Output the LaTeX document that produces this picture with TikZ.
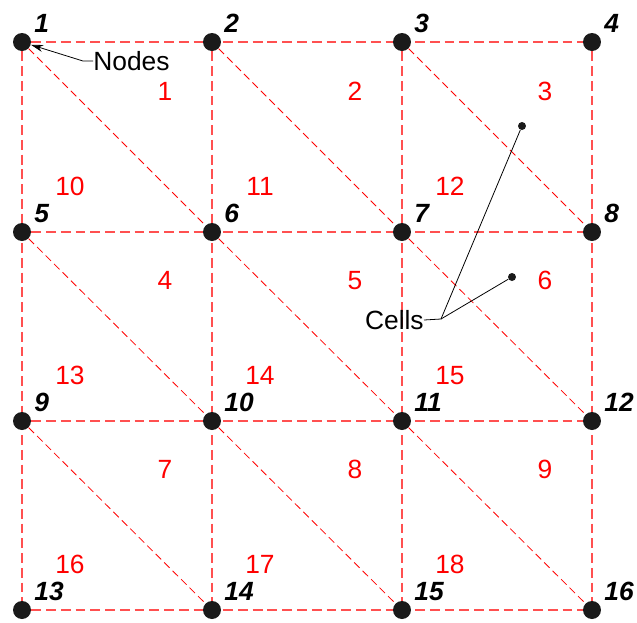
\documentclass[tikz,border=0pt]{standalone}
\usepackage{fontspec}
\setmainfont{Liberation Sans}
\usetikzlibrary{positioning,arrows.meta,backgrounds}
\definecolor{MeshRed}{HTML}{FF0000}
\definecolor{GridRed}{HTML}{FF5050}
\definecolor{DotBlack}{HTML}{1A1A1A}

\begin{document}
\begin{tikzpicture}[
    x=0.02cm, y=-0.02cm,
    font=\fontsize{15}{17}\selectfont,
    meshnode/.style={circle, fill=DotBlack, minimum size=0.36cm, inner sep=0pt},
    cellpt/.style={circle, fill=DotBlack, minimum size=0.16cm, inner sep=0pt},
    nodeid/.style={anchor=south west, inner sep=0pt, font=\fontsize{15}{17}\selectfont\bfseries\itshape},
    cellid/.style={inner sep=0pt, text=MeshRed},
    gridline/.style={draw=GridRed, line width=0.75pt, dash pattern=on 5.6pt off 2.8pt},
    diagline/.style={draw=MeshRed, line width=0.45pt, dash pattern=on 4.4pt off 2.4pt},
    callout/.style={draw=black, line width=0.45pt}
  ]
    \useasboundingbox (0,0) rectangle (637,623);
    % mesh nodes 1..16
    \foreach \r/\y in {0/42,1/232,2/421,3/610}
      \foreach \c in {0,...,3} {
        \pgfmathtruncatemacro\k{4*\r+\c+1}
        \node[meshnode] (n\k) at ({22+190*\c},\y) {};
        \node[nodeid] (l\k) at ([shift={(12,-9)}]n\k.center) {\k};
      }
    % grid and diagonals
    \begin{scope}[on background layer]
      \foreach \a/\b in {1/4,5/8,9/12,13/16,1/13,2/14,3/15,4/16}
        \draw[gridline] (n\a) -- (n\b);
      \foreach \a in {1,2,3,5,6,7,9,10,11} {
        \pgfmathtruncatemacro\b{\a+5}
        \draw[diagline] (n\a) -- (n\b);
      }
    \end{scope}
    % cell numbers
    \foreach \r in {0,...,2}
      \foreach \c in {0,...,2} {
        \pgfmathtruncatemacro\up{3*\r+\c+1}
        \pgfmathtruncatemacro\lo{10+3*\r+\c}
        \node[cellid] (u\up) at ({165+190*\c},{91+189.3*\r}) {\up};
        \node[cellid] (d\lo) at ({70+190*\c},{186+189.3*\r}) {\lo};
      }
    % callouts
    \node[anchor=west, inner sep=0pt] (nodestxt) at (93,61) {Nodes};
    \draw[callout, -{Stealth[length=7pt, width=4pt]}] (nodestxt.west) -- ++(-10,0) -- (n1);
    \node[cellpt] (pc3) at (522,126) {};
    \node[cellpt] (pc6) at (512,277) {};
    \node[anchor=east, inner sep=0pt] (cellstxt) at (424,320) {Cells};
    \coordinate (cj) at (441,319);
    \draw[callout] (cellstxt.east) -- (cj) -- (pc3);
    \draw[callout] (cj) -- (pc6);
\end{tikzpicture}
\end{document}
